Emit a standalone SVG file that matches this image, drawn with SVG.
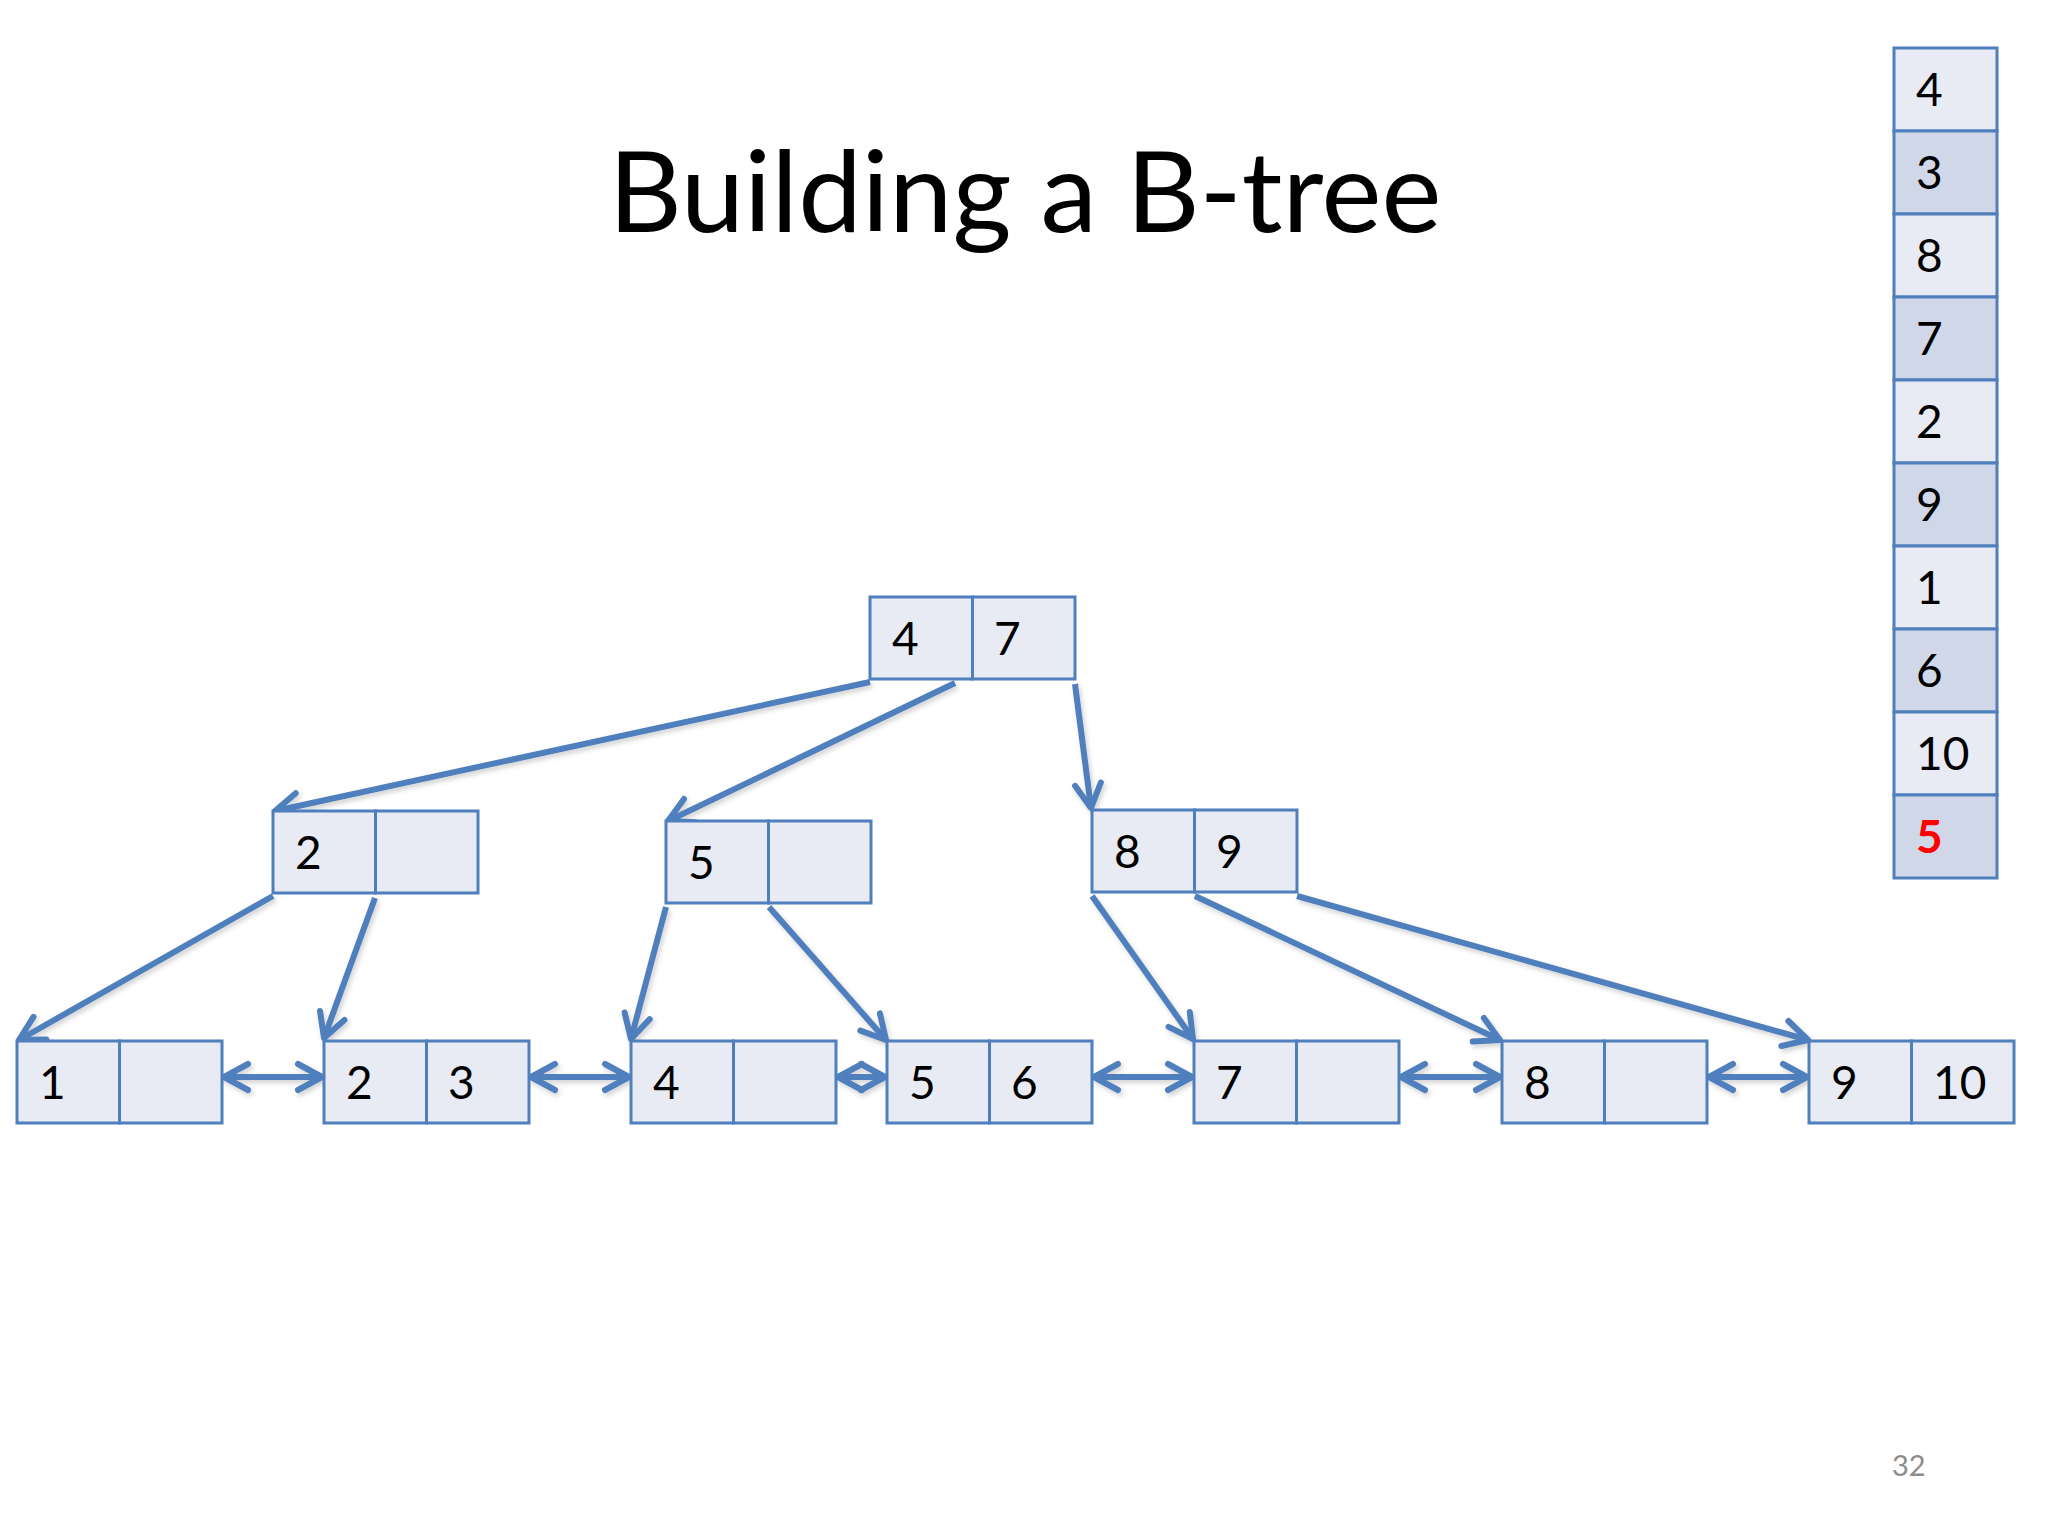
<svg xmlns="http://www.w3.org/2000/svg" width="2048" height="1536" viewBox="0 0 2048 1536">
<style>
.cell{fill:#e8ebf4;stroke:#4f7fbc;stroke-width:3}
.qa{fill:#e8ebf4;stroke:#4f7fbc;stroke-width:3}
.qb{fill:#cfd7e8;stroke:#4f7fbc;stroke-width:3}
.t{font-family:Lato,"Open Sans","Liberation Sans",sans-serif;font-size:46px;fill:#000}
.title{font-family:Lato,"Open Sans","Liberation Sans",sans-serif;font-size:112px;fill:#000}
.edge{fill:none;stroke:#4f7fbc;stroke-width:6;stroke-linecap:butt}
.pg{font-family:Lato,"Open Sans","Liberation Sans",sans-serif;font-size:29px;fill:#8c8c8c}
</style>
<defs>
<marker id="ah" markerUnits="userSpaceOnUse" viewBox="-30 -20 36 40" refX="0" refY="0" markerWidth="36" markerHeight="40" orient="auto-start-reverse">
<path d="M -24 -13 L 0 0 L -24 13" fill="none" stroke="#4f7fbc" stroke-width="6" stroke-linecap="round" stroke-linejoin="round"/>
</marker>
<filter id="sh" x="-10%" y="-10%" width="120%" height="130%">
<feDropShadow dx="2" dy="3" stdDeviation="2.5" flood-color="#000" flood-opacity="0.18"/>
</filter>
</defs>
<rect width="2048" height="1536" fill="#ffffff"/>
<text class="title" x="1025" y="232" text-anchor="middle" textLength="833" lengthAdjust="spacingAndGlyphs">Building a B-tree</text>

<g id="connectors" filter="url(#sh)">
<line class="edge" x1="870" y1="682" x2="275" y2="811" marker-end="url(#ah)"/>
<line class="edge" x1="955" y1="683" x2="668" y2="821" marker-end="url(#ah)"/>
<line class="edge" x1="1075" y1="684" x2="1091" y2="808" marker-end="url(#ah)"/>
<line class="edge" x1="273" y1="896" x2="19" y2="1040" marker-end="url(#ah)"/>
<line class="edge" x1="375" y1="898" x2="324" y2="1038" marker-end="url(#ah)"/>
<line class="edge" x1="666" y1="907" x2="631" y2="1039" marker-end="url(#ah)"/>
<line class="edge" x1="769" y1="907" x2="886" y2="1040" marker-end="url(#ah)"/>
<line class="edge" x1="1092" y1="896" x2="1193" y2="1039" marker-end="url(#ah)"/>
<line class="edge" x1="1195" y1="896" x2="1500" y2="1040" marker-end="url(#ah)"/>
<line class="edge" x1="1297" y1="896" x2="1808" y2="1040" marker-end="url(#ah)"/>
<line class="edge" x1="224" y1="1077" x2="322" y2="1077" marker-start="url(#ah)" marker-end="url(#ah)"/>
<line class="edge" x1="531" y1="1077" x2="629" y2="1077" marker-start="url(#ah)" marker-end="url(#ah)"/>
<line class="edge" x1="838" y1="1077" x2="885" y2="1077" marker-start="url(#ah)" marker-end="url(#ah)"/>
<line class="edge" x1="1094" y1="1077" x2="1192" y2="1077" marker-start="url(#ah)" marker-end="url(#ah)"/>
<line class="edge" x1="1401" y1="1077" x2="1500" y2="1077" marker-start="url(#ah)" marker-end="url(#ah)"/>
<line class="edge" x1="1709" y1="1077" x2="1807" y2="1077" marker-start="url(#ah)" marker-end="url(#ah)"/>
</g>

<g id="root">
<rect class="cell" x="870" y="597" width="102.5" height="82"/>
<rect class="cell" x="972.5" y="597" width="102.5" height="82"/>
<text class="t" x="892" y="655">4</text>
<text class="t" x="994" y="655">7</text>
</g>

<g id="node-2">
<rect class="cell" x="273" y="811" width="102.5" height="82"/>
<rect class="cell" x="375.5" y="811" width="102.5" height="82"/>
<text class="t" x="295" y="869">2</text>
</g>

<g id="node-5">
<rect class="cell" x="666" y="821" width="102.5" height="82"/>
<rect class="cell" x="768.5" y="821" width="102.5" height="82"/>
<text class="t" x="688" y="879">5</text>
</g>

<g id="node-8-9">
<rect class="cell" x="1092" y="810" width="102.5" height="82"/>
<rect class="cell" x="1194.5" y="810" width="102.5" height="82"/>
<text class="t" x="1114" y="868">8</text>
<text class="t" x="1216" y="868">9</text>
</g>

<g id="leaf-1">
<rect class="cell" x="17" y="1041" width="102.5" height="82"/>
<rect class="cell" x="119.5" y="1041" width="102.5" height="82"/>
<text class="t" x="39" y="1099">1</text>
</g>

<g id="leaf-2-3">
<rect class="cell" x="324" y="1041" width="102.5" height="82"/>
<rect class="cell" x="426.5" y="1041" width="102.5" height="82"/>
<text class="t" x="346" y="1099">2</text>
<text class="t" x="448" y="1099">3</text>
</g>

<g id="leaf-4">
<rect class="cell" x="631" y="1041" width="102.5" height="82"/>
<rect class="cell" x="733.5" y="1041" width="102.5" height="82"/>
<text class="t" x="653" y="1099">4</text>
</g>

<g id="leaf-5-6">
<rect class="cell" x="887" y="1041" width="102.5" height="82"/>
<rect class="cell" x="989.5" y="1041" width="102.5" height="82"/>
<text class="t" x="909" y="1099">5</text>
<text class="t" x="1011" y="1099">6</text>
</g>

<g id="leaf-7">
<rect class="cell" x="1194" y="1041" width="102.5" height="82"/>
<rect class="cell" x="1296.5" y="1041" width="102.5" height="82"/>
<text class="t" x="1216" y="1099">7</text>
</g>

<g id="leaf-8">
<rect class="cell" x="1502" y="1041" width="102.5" height="82"/>
<rect class="cell" x="1604.5" y="1041" width="102.5" height="82"/>
<text class="t" x="1524" y="1099">8</text>
</g>

<g id="leaf-9-10">
<rect class="cell" x="1809" y="1041" width="102.5" height="82"/>
<rect class="cell" x="1911.5" y="1041" width="102.5" height="82"/>
<text class="t" x="1831" y="1099">9</text>
<text class="t" x="1933" y="1099">10</text>
</g>

<g id="queue">
<rect class="qa" x="1894" y="48" width="103" height="83"/>
<rect class="qb" x="1894" y="131" width="103" height="83"/>
<rect class="qa" x="1894" y="214" width="103" height="83"/>
<rect class="qb" x="1894" y="297" width="103" height="83"/>
<rect class="qa" x="1894" y="380" width="103" height="83"/>
<rect class="qb" x="1894" y="463" width="103" height="83"/>
<rect class="qa" x="1894" y="546" width="103" height="83"/>
<rect class="qb" x="1894" y="629" width="103" height="83"/>
<rect class="qa" x="1894" y="712" width="103" height="83"/>
<rect class="qb" x="1894" y="795" width="103" height="83"/>
<text class="t" x="1916" y="106">4</text>
<text class="t" x="1916" y="189">3</text>
<text class="t" x="1916" y="272">8</text>
<text class="t" x="1916" y="355">7</text>
<text class="t" x="1916" y="438">2</text>
<text class="t" x="1916" y="521">9</text>
<text class="t" x="1916" y="604">1</text>
<text class="t" x="1916" y="687">6</text>
<text class="t" x="1916" y="770">10</text>
<text class="t" x="1916" y="853" style="fill:#ff0000;font-weight:bold">5</text>
</g>

<text class="pg" x="1892" y="1476">32</text>
</svg>
